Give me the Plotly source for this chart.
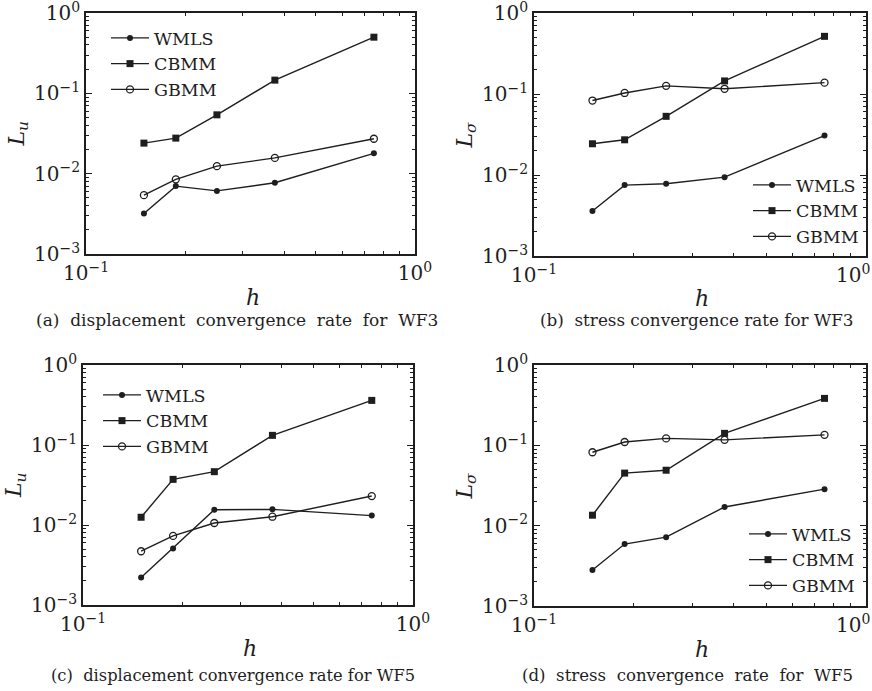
import plotly.graph_objects as go

# ---------------- data ----------------
h = [0.15, 0.1875, 0.25, 0.375, 0.75]

a_wmls = [0.0032, 0.0070, 0.0061, 0.0077, 0.0179]
a_cbmm = [0.0240, 0.0277, 0.054, 0.146, 0.50]
a_gbmm = [0.0054, 0.0085, 0.0124, 0.0157, 0.0272]

b_wmls = [0.0036, 0.0075, 0.0078, 0.0094, 0.0307]
b_cbmm = [0.0243, 0.0272, 0.053, 0.145, 0.515]
b_gbmm = [0.083, 0.103, 0.126, 0.116, 0.138]

c_wmls = [0.0022, 0.0051, 0.0155, 0.0157, 0.0131]
c_cbmm = [0.0125, 0.0372, 0.0464, 0.132, 0.361]
c_gbmm = [0.0047, 0.0073, 0.0106, 0.0127, 0.0230]

d_wmls = [0.0028, 0.0059, 0.0072, 0.0171, 0.0285]
d_cbmm = [0.0135, 0.0451, 0.049, 0.141, 0.384]
d_gbmm = [0.082, 0.110, 0.122, 0.117, 0.135]

series_names = ["WMLS", "CBMM", "GBMM"]
y_tickvals = [0.001, 0.01, 0.1, 1]
y_ticktext = ["10<sup>−3</sup>", "10<sup>−2</sup>", "10<sup>−1</sup>", "10<sup>0</sup>"]
x_tickvals = [0.1, 1]
x_ticktext = ["10<sup>−1</sup>", "10<sup>0</sup>"]
# right-column panels: the 10^0 label sits at the page edge, pad it leftwards
x_ticktext_edge = ["10<sup>−1</sup>", "10<sup>0</sup>\u00a0\u00a0\u00a0\u00a0"]
captions = ["(a)  displacement  convergence  rate  for  WF3",
            "(b)  stress convergence rate for WF3",
            "(c)  displacement convergence rate for WF5",
            "(d)  stress  convergence  rate  for  WF5"]
ytitles = ["<i>L<sub>u</sub></i>", "<i>L<sub>σ</sub></i>",
           "<i>L<sub>u</sub></i>", "<i>L<sub>σ</sub></i>"]

panels = [(a_wmls, a_cbmm, a_gbmm), (b_wmls, b_cbmm, b_gbmm),
          (c_wmls, c_cbmm, c_gbmm), (d_wmls, d_cbmm, d_gbmm)]

W, H = 872, 691
# plot-area pixel boxes: (left, right, top, bottom)
boxes = [(86, 415, 13, 254), (534, 866, 13, 256),
         (83, 413, 365, 605), (534, 866, 365, 606)]

INK = "#1e1e1e"
FONT = "DejaVu Serif"

minor_y = [m * 10 ** e for e in (-3, -2, -1) for m in range(2, 10)]
minor_x = [m * 0.1 for m in range(2, 10)]

markers = [dict(symbol="circle", size=6, color=INK),
           dict(symbol="square", size=7, color=INK),
           dict(symbol="circle-open", size=7, color=INK, line=dict(width=1.3, color=INK))]

fig = go.Figure()
layout = dict(width=W, height=H, margin=dict(l=0, r=0, t=0, b=0, autoexpand=False),
              paper_bgcolor="white", plot_bgcolor="white",
              font=dict(family=FONT, color=INK), annotations=[])

# legend anchor (x, y, xanchor)
legend_pos = [(106, 20, "left"), (864, 167, "right"),
              (98, 377, "left"), (860, 516, "right")]

for i, (vals, box) in enumerate(zip(panels, boxes)):
    k = "" if i == 0 else str(i + 1)
    xa, ya, lg = "x" + k, "y" + k, "legend" + k
    for name, v, mk in zip(series_names, vals, markers):
        fig.add_trace(go.Scatter(x=h, y=v, name=name, mode="lines+markers",
                                 line=dict(color=INK, width=1.4), marker=mk,
                                 xaxis=xa, yaxis=ya, legend=lg))
    l, r, t, b = box
    axcommon = dict(type="log", showgrid=False, zeroline=False, showline=True,
                    automargin=False, ticklabeloverflow="allow",
                    linecolor=INK, linewidth=1.8, mirror="allticks",
                    ticks="inside", ticklen=6, tickcolor=INK, tickwidth=1,
                    tickfont=dict(family=FONT, size=20, color=INK))
    layout["xaxis" + k] = dict(axcommon, domain=[l / W, r / W], anchor=ya,
                               range=[-1, 0], tickmode="array",
                               tickvals=x_tickvals,
                               ticktext=x_ticktext_edge if i % 2 else x_ticktext,
                               minor=dict(tickmode="array", tickvals=minor_x,
                                          ticks="inside", ticklen=3, tickcolor=INK,
                                          showgrid=False))
    layout["yaxis" + k] = dict(axcommon, domain=[1 - b / H, 1 - t / H], anchor=xa,
                               range=[-3, 0], tickmode="array",
                               tickvals=y_tickvals, ticktext=y_ticktext,
                               minor=dict(tickmode="array", tickvals=minor_y,
                                          ticks="inside", ticklen=3, tickcolor=INK,
                                          showgrid=False))
    lx, ly, xan = legend_pos[i]
    layout[lg] = dict(x=lx / W, y=1 - ly / H, xanchor=xan, yanchor="top",
                      bgcolor="rgba(0,0,0,0)", borderwidth=0,
                      font=dict(family=FONT, size=17.5, color=INK),
                      itemwidth=38, tracegroupgap=0)
    cx = (l + r) / 2
    # y-axis title
    layout["annotations"].append(dict(text=ytitles[i], x=(l - 68) / W, y=1 - ((t + b) / 2) / H,
                                      xref="paper", yref="paper", showarrow=False,
                                      xanchor="center", yanchor="middle",
                                      textangle=-90, font=dict(family=FONT, size=22, color=INK)))
    # x-axis title
    layout["annotations"].append(dict(text="<i>h</i>", x=(cx + 2) / W, y=1 - (b + 43) / H,
                                      xref="paper", yref="paper", showarrow=False,
                                      xanchor="center", yanchor="middle",
                                      font=dict(family=FONT, size=22, color=INK)))

cap_pos = [(237, 320, 17.0), (697, 320, 16.8), (233, 675, 16.3), (687, 675, 16.6)]
for txt, (cx, cy, fs) in zip(captions, cap_pos):
    layout["annotations"].append(dict(text=txt, x=cx / W, y=1 - cy / H,
                                      xref="paper", yref="paper", showarrow=False,
                                      xanchor="center", yanchor="middle",
                                      font=dict(family=FONT, size=fs, color=INK)))

fig.update_layout(**layout)
fig.write_html("out.html")
